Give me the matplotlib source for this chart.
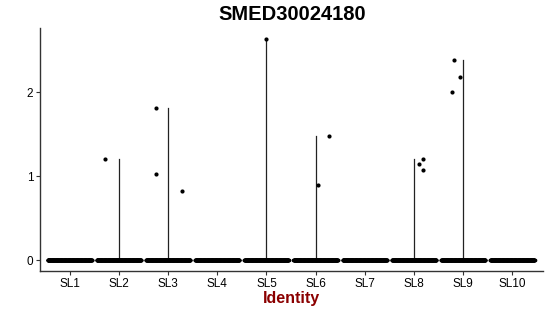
import numpy as np
import matplotlib
matplotlib.use('Agg')
import matplotlib.pyplot as plt

plt.rcParams['font.family'] = ['Liberation Sans', 'DejaVu Sans']

groups = ['SL1', 'SL2', 'SL3', 'SL4', 'SL5', 'SL6', 'SL7', 'SL8', 'SL9', 'SL10']
# number of cells with zero expression per group (estimated)
zero_counts = [300, 300, 300, 300, 300, 300, 300, 300, 300, 300]
# non-zero expression values per group
nonzero_vals = {
    'SL2': [1.21],
    'SL3': [1.81, 1.03, 0.83],
    'SL5': [2.63],
    'SL6': [1.48, 0.90],
    'SL8': [1.20, 1.14, 1.08],
    'SL9': [2.38, 2.18, 2.00],
}
# jitter offsets for non-zero points
nonzero_jitter = {
    'SL2': [-0.29],
    'SL3': [-0.24, -0.24, 0.29],
    'SL5': [0.0],
    'SL6': [0.27, 0.05],
    'SL8': [0.19, 0.10, 0.19],
    'SL9': [-0.18, -0.07, -0.23],
}

fig, ax = plt.subplots(figsize=(5.5, 3.16), dpi=100)
fig.subplots_adjust(left=0.073, right=0.988, bottom=0.142, top=0.91)

for i, g in enumerate(groups, start=1):
    vals = nonzero_vals.get(g, [])
    # violin collapses to a line when almost everything is zero
    if vals:
        ax.plot([i, i], [0, max(vals)], color='#222222', lw=0.9, zorder=1)
    xs = i + np.linspace(-0.45, 0.45, zero_counts[i - 1])
    ax.scatter(xs, np.zeros_like(xs), s=7, color='black', lw=0, zorder=2)
    if vals:
        ax.scatter(i + np.array(nonzero_jitter[g]), vals, s=9, color='black',
                   lw=0, zorder=2)

ax.set_xlim(0.4, 10.63)
ax.set_ylim(-0.13, 2.76)
ax.set_xticks(range(1, len(groups) + 1))
ax.set_xticklabels(groups)
ax.set_yticks([0, 1, 2])
ax.tick_params(labelsize=8.5, colors='#333333', labelcolor='black', length=3,
               width=0.8, pad=2)
for s in ['top', 'right']:
    ax.spines[s].set_visible(False)
for s in ['left', 'bottom']:
    ax.spines[s].set_color('#333333')
    ax.spines[s].set_linewidth(1.0)

ax.set_title('SMED30024180', fontsize=14.5, fontweight='bold', pad=6)
ax.set_xlabel('Identity', fontsize=11.5, fontweight='bold', color='#8B0000', labelpad=1)

plt.savefig('out.png', dpi=100)
